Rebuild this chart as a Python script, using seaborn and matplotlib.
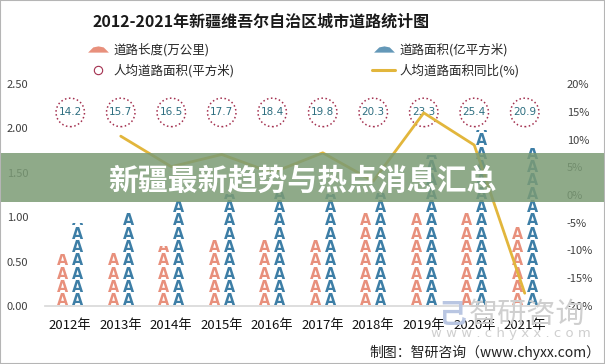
# 2012-2021 Xinjiang urban roads chart
import numpy as np
import pandas as pd
import seaborn as sns
import matplotlib.pyplot as plt
from matplotlib.lines import Line2D
from matplotlib.path import Path
from matplotlib.patches import Rectangle

# DATA
years = ['2012年', '2013年', '2014年', '2015年', '2016年',
         '2017年', '2018年', '2019年', '2020年', '2021年']
road_length = [0.59, 0.61, 0.68, 0.74, 0.75, 0.75, 1.05, 1.05, 1.05, 0.91]
road_area = [0.93, 1.06, 1.18, 1.26, 1.28, 1.26, 1.27, 1.70, 1.98, 1.78]
area_per_capita = [14.2, 15.7, 16.5, 17.7, 18.4, 19.8, 20.3, 23.3, 25.4, 20.9]
yoy_years = ['2013年', '2014年', '2015年', '2016年', '2017年',
             '2018年', '2019年', '2020年', '2021年']
yoy_pct = [10.6, 5.1, 7.3, 4.0, 7.6, 2.5, 14.8, 9.0, -17.7]

ORANGE = '#E8907C'
BLUE = '#3D7EA6'
GOLD = '#E2B63C'
CIRCLE = '#A3304F'
TEAL = '#2D6E80'

sns.set_theme(style='white')
plt.rcParams['font.family'] = ['Noto Sans CJK SC', 'DejaVu Sans']

df = pd.DataFrame({
    'year': years * 2,
    'series': ['道路长度(万公里)'] * len(years) + ['道路面积(亿平方米)'] * len(years),
    'value': road_length + road_area,
})

fig = plt.figure(figsize=(6.05, 3.64), dpi=100)
ax = fig.add_axes([45 / 605, 1 - 306 / 364, 505 / 605, 222 / 364])

sns.barplot(data=df, x='year', y='value', hue='series',
            palette=[ORANGE, BLUE], width=0.6, saturation=1,
            legend=False, ax=ax)

# PICTORIAL BARS: STACKED ROAD ICONS CLIPPED TO EACH BAR
step = 0.15
for cont, color in zip(ax.containers, [ORANGE, BLUE]):
    for bar in cont:
        bar.set_facecolor('none')
        bar.set_edgecolor('none')
        xc = bar.get_x() + bar.get_width() / 2
        h = bar.get_height()
        for k in range(int(np.ceil(h / step))):
            t = ax.text(xc, k * step + 0.008, 'A', ha='center', va='baseline',
                        color=color, fontsize=11.5, fontweight='bold',
                        fontstretch='condensed', family='DejaVu Sans',
                        clip_on=True)
            t.set_clip_path(bar)

# PER CAPITA CIRCLES
xs = np.arange(len(years))
ax.scatter(xs, [2.18] * len(years), s=420, facecolors='white',
           edgecolors=CIRCLE, linewidths=1.1, linestyles=':', zorder=3)
for x, v in zip(xs, area_per_capita):
    ax.text(x, 2.18, f'{v:.1f}', ha='center', va='center', fontsize=7.5,
            color=TEAL, family='DejaVu Sans', zorder=4)

ax.set_xlim(-0.5, len(years) - 0.5)
ax.set_ylim(0, 2.5)
ax.set_yticks(np.arange(0, 2.51, 0.5))
ax.set_yticklabels([f'{v:.2f}' for v in np.arange(0, 2.51, 0.5)])
ax.tick_params(axis='y', length=0, pad=12, labelsize=8, labelcolor='#404040')
ax.tick_params(axis='x', length=0, pad=9, labelsize=9.5, labelcolor='#111111')
ax.set_xlabel('')
ax.set_ylabel('')
for s in ['left', 'right', 'top']:
    ax.spines[s].set_visible(False)
ax.spines['bottom'].set_color('#d9d9d9')

# YEAR-ON-YEAR LINE
ax2 = ax.twinx()
sns.lineplot(x=[years.index(y) for y in yoy_years], y=yoy_pct,
             color=GOLD, linewidth=2, ax=ax2)
ax2.set_ylim(-20, 20)
ax2.set_yticks(range(-20, 21, 5))
ax2.set_yticklabels([f'{v}%' for v in range(-20, 21, 5)])
ax2.tick_params(axis='y', length=0, pad=12, labelsize=8, labelcolor='#404040')
ax2.set_xlim(-0.5, len(years) - 0.5)
ax2.set_ylabel('')
for s in ax2.spines.values():
    s.set_visible(False)

# TITLE AND LEGENDS
fig.text(261 / 605, 1 - 22 / 364, '2012-2021年新疆维吾尔自治区城市道路统计图',
         ha='center', va='center', fontsize=11.5, fontweight='bold', color='#1a1a1a')

flat = Path([(-1, -0.3), (-0.5, 0.2), (0, 0.3), (0.5, 0.2), (1, -0.3), (-1, -0.3)])
h_len = Line2D([], [], linestyle='none', marker=flat, markersize=15,
               markerfacecolor=ORANGE, markeredgecolor='none')
h_area = Line2D([], [], linestyle='none', marker=flat, markersize=15,
                markerfacecolor=BLUE, markeredgecolor='none', alpha=0.8)
h_circ = Line2D([], [], linestyle='none', marker='o', markersize=6,
                markerfacecolor='none', markeredgecolor=CIRCLE, markeredgewidth=0.8)
h_line = Line2D([], [], color=GOLD, linewidth=2.2)

leg1 = fig.legend([h_len, h_circ], ['道路长度(万公里)', '人均道路面积(平方米)'],
                  loc='upper left', bbox_to_anchor=(80 / 605, 1 - 37 / 364),
                  frameon=False, fontsize=9, borderpad=0, handlelength=1.8,
                  handletextpad=0.4, labelspacing=0.55)
leg2 = fig.legend([h_area, h_line], ['道路面积(亿平方米)', '人均道路面积同比(%)'],
                  loc='upper left', bbox_to_anchor=(366 / 605, 1 - 37 / 364),
                  frameon=False, fontsize=9, borderpad=0, handlelength=1.8,
                  handletextpad=0.4, labelspacing=0.55)

# WATERMARK AND SOURCE
fig.text(452 / 605, 1 - 315 / 364, '己', ha='center', va='center', fontsize=20,
         color='#b9c6e2', fontweight='bold')
fig.text(527 / 605, 1 - 315 / 364, '智研咨询', ha='center', va='center',
         fontsize=21, color='#cfcfcf')
fig.text(511 / 605, 1 - 333 / 364, 'w w w . c h y x x . c o m', ha='center',
         va='center', fontsize=9.5, color='#cfcfcf', family='DejaVu Sans')
fig.text(600 / 605, 1 - 352 / 364, '制图：智研咨询（www.chyxx.com）', ha='right',
         va='center', fontsize=10, color='#222222')

# OVERLAY BANNER
fig.add_artist(Rectangle((0, 1 - 202 / 364), 1, 49 / 364, transform=fig.transFigure,
                         facecolor='#7B9B75', edgecolor='none', alpha=0.85, zorder=10))
fig.text(302 / 605, 1 - 181 / 364, '新疆最新趋势与热点消息汇总', ha='center',
         va='center', fontsize=21.5, fontweight='bold', color='white', zorder=11)

fig.add_artist(Rectangle((0, 0), 1, 1, transform=fig.transFigure, fill=False,
                         edgecolor='#b5b5b5', linewidth=1.5, zorder=12))

fig.savefig('out.png', dpi=100)
